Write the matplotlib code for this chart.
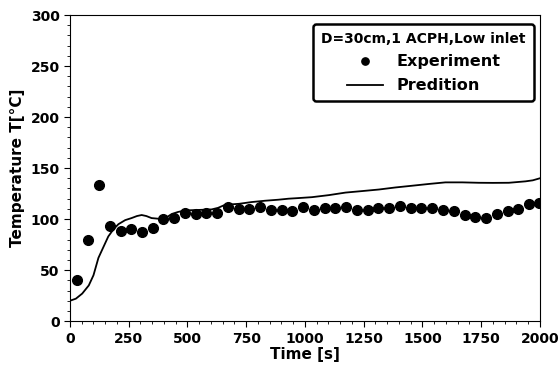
import numpy as np
import matplotlib
matplotlib.use("Agg")
import matplotlib.pyplot as plt
from matplotlib.ticker import MultipleLocator

# experiment points (time [s], temperature [C])
exp_time = [31, 77, 122, 169, 215, 261, 306, 353, 397, 444, 490, 535, 580, 627,
            672, 719, 764, 810, 856, 901, 947, 993, 1038, 1085, 1130, 1176, 1222,
            1267, 1313, 1358, 1405, 1450, 1496, 1541, 1588, 1633, 1680, 1725,
            1771, 1817, 1863, 1908, 1953, 1998]
exp_temp = [40, 80, 133, 93, 88, 90, 87.6, 91, 100, 101, 106, 105, 106, 106,
            112, 110, 110, 112, 108.5, 109, 107.5, 111.4, 109, 111, 111, 112, 109,
            109, 111, 111, 113, 110.5, 110.5, 110.5, 109, 108, 103.6, 102,
            101, 104.6, 108, 110, 115, 116]

# prediction curve
pred_time = [0, 25, 52, 80, 100, 121, 145, 163, 185, 206, 235, 262, 285, 305,
             325, 347, 370, 390, 410, 433, 460, 490, 550, 603, 630, 660, 720,
             773, 830, 887, 930, 972, 1030, 1102, 1173, 1245, 1315, 1385, 1456,
             1530, 1598, 1670, 1740, 1800, 1868, 1939, 1970, 2000]
pred_temp = [20, 22, 27, 35, 45, 62, 74, 83, 90, 95, 99, 101, 103, 104,
             103, 101, 100.5, 100, 101.5, 105, 107, 108.5, 109, 109.5, 111, 114, 115,
             116.7, 118, 119, 120, 120.6, 121.5, 123.5, 126, 127.5, 129, 131, 132.7,
             134.5, 136, 136, 135.6, 135.5, 135.6, 137, 138, 140]

plt.rcParams['font.family'] = 'DejaVu Sans'
plt.rcParams['font.weight'] = 'bold'

fig = plt.figure(figsize=(5.6, 3.67), dpi=100)
ax = fig.add_axes([0.125, 0.125, 0.839, 0.834])

ax.plot(exp_time, exp_temp, 'o', color='black', markersize=7, label='Experiment')
ax.plot(pred_time, pred_temp, '-', color='black', linewidth=1.3, label='Predition')

ax.set_xlim(0, 2000)
ax.set_ylim(0, 300)
ax.xaxis.set_major_locator(MultipleLocator(250))
ax.xaxis.set_minor_locator(MultipleLocator(50))
ax.yaxis.set_major_locator(MultipleLocator(50))
ax.yaxis.set_minor_locator(MultipleLocator(10))
ax.tick_params(which='both', direction='out', top=False, right=False)
ax.tick_params(which='major', length=4, labelsize=10)
ax.tick_params(which='minor', length=2)
for lab in ax.get_xticklabels() + ax.get_yticklabels():
    lab.set_fontweight('bold')

ax.set_xlabel('Time [s]', fontsize=11, fontweight='bold', labelpad=1)
ax.set_ylabel('Temperature T[°C]', fontsize=11, fontweight='bold', labelpad=4)

leg = ax.legend(loc='upper right', title='D=30cm,1 ACPH,Low inlet',
                prop={'weight': 'bold', 'size': 11.5},
                title_fontproperties={'weight': 'bold', 'size': 10},
                fancybox=True, framealpha=1, edgecolor='black',
                markerscale=0.75, handlelength=2.3, handletextpad=0.8,
                borderpad=0.5, labelspacing=0.55,
                bbox_to_anchor=(0.987, 0.972), borderaxespad=0)
leg.get_frame().set_linewidth(1.8)

fig.savefig('out.png', dpi=100)
